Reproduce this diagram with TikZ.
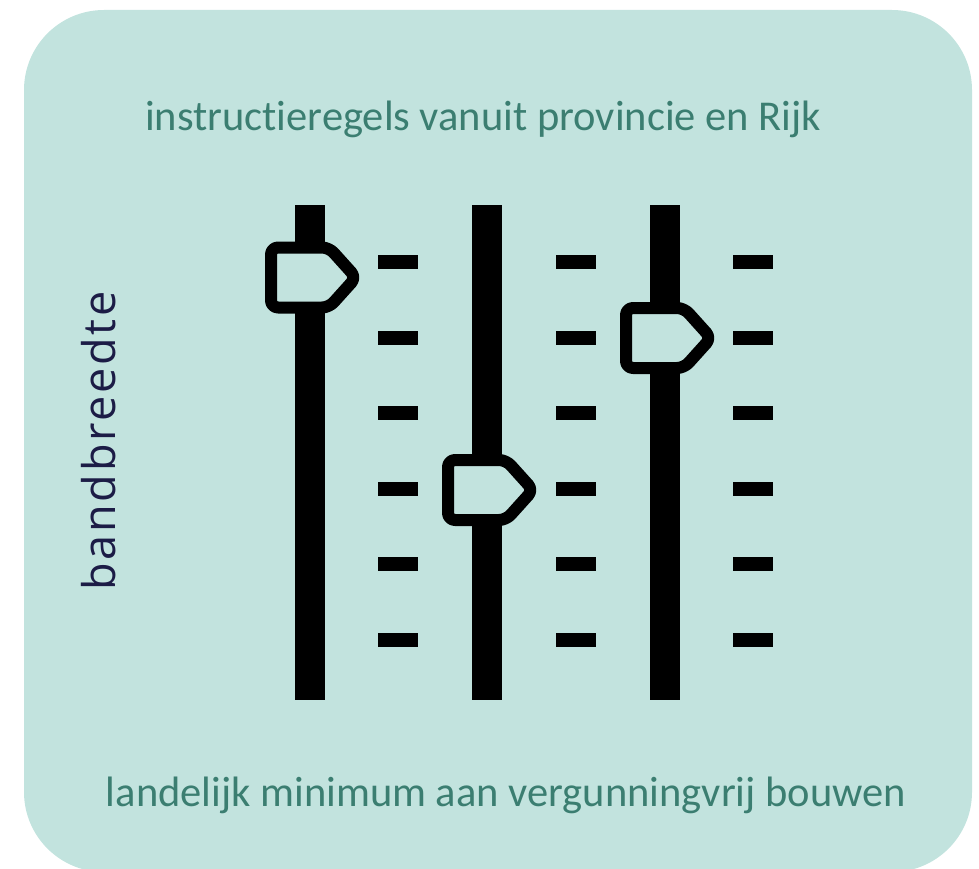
\documentclass[tikz,border=0pt]{standalone}
\usepackage{fontspec}
\setmainfont[Ligatures=NoCommon]{Carlito}
\newfontfamily\bandfont[LetterSpace=6]{Open Sans}
\definecolor{bgteal}{HTML}{C2E3DE}
\definecolor{txteal}{HTML}{3B7E71}
\definecolor{navy}{HTML}{1C1C46}
\begin{document}
\begin{tikzpicture}[x=1pt,y=-1pt,
  knob/.style={draw=black,fill=bgteal,line width=12pt,line join=round,rounded corners=7pt},
  lbl/.style={text=txteal,inner sep=0pt,anchor=base,font=\fontsize{42.5}{46}\selectfont}]
\useasboundingbox (0,0) rectangle (979,869);
\fill[bgteal,rounded corners=80pt] (24,10) rectangle (972,872);
% bars
\foreach \c in {310,487,665}{
  \fill (\c-15,205) rectangle (\c+15,700);
}
% ticks
\foreach \tx in {398,576,753}{
  \foreach \ty in {262,337.6,413.2,488.8,564.4,640}{
    \fill (\tx-20,\ty-7) rectangle (\tx+20,\ty+7);
  }
}
% knobs
\foreach \c/\h in {310/277.5,487/490,665/338}{
  \draw[knob] (\c-39,\h-30) -- (\c+19,\h-30) -- (\c+46,\h) -- (\c+19,\h+30) -- (\c-39,\h+30) -- cycle;
}
\node[lbl] (top) at (483,131) {instructieregels vanuit provincie en Rijk};
\node[lbl] (bot) at (506,806) {landelijk minimum aan vergunningvrij bouwen};
\node[text=navy,inner sep=0pt,rotate=90,anchor=base,font=\fontsize{45}{48}\selectfont\bandfont] (band) at (115,441) {bandbreedte};
\end{tikzpicture}
\end{document}
